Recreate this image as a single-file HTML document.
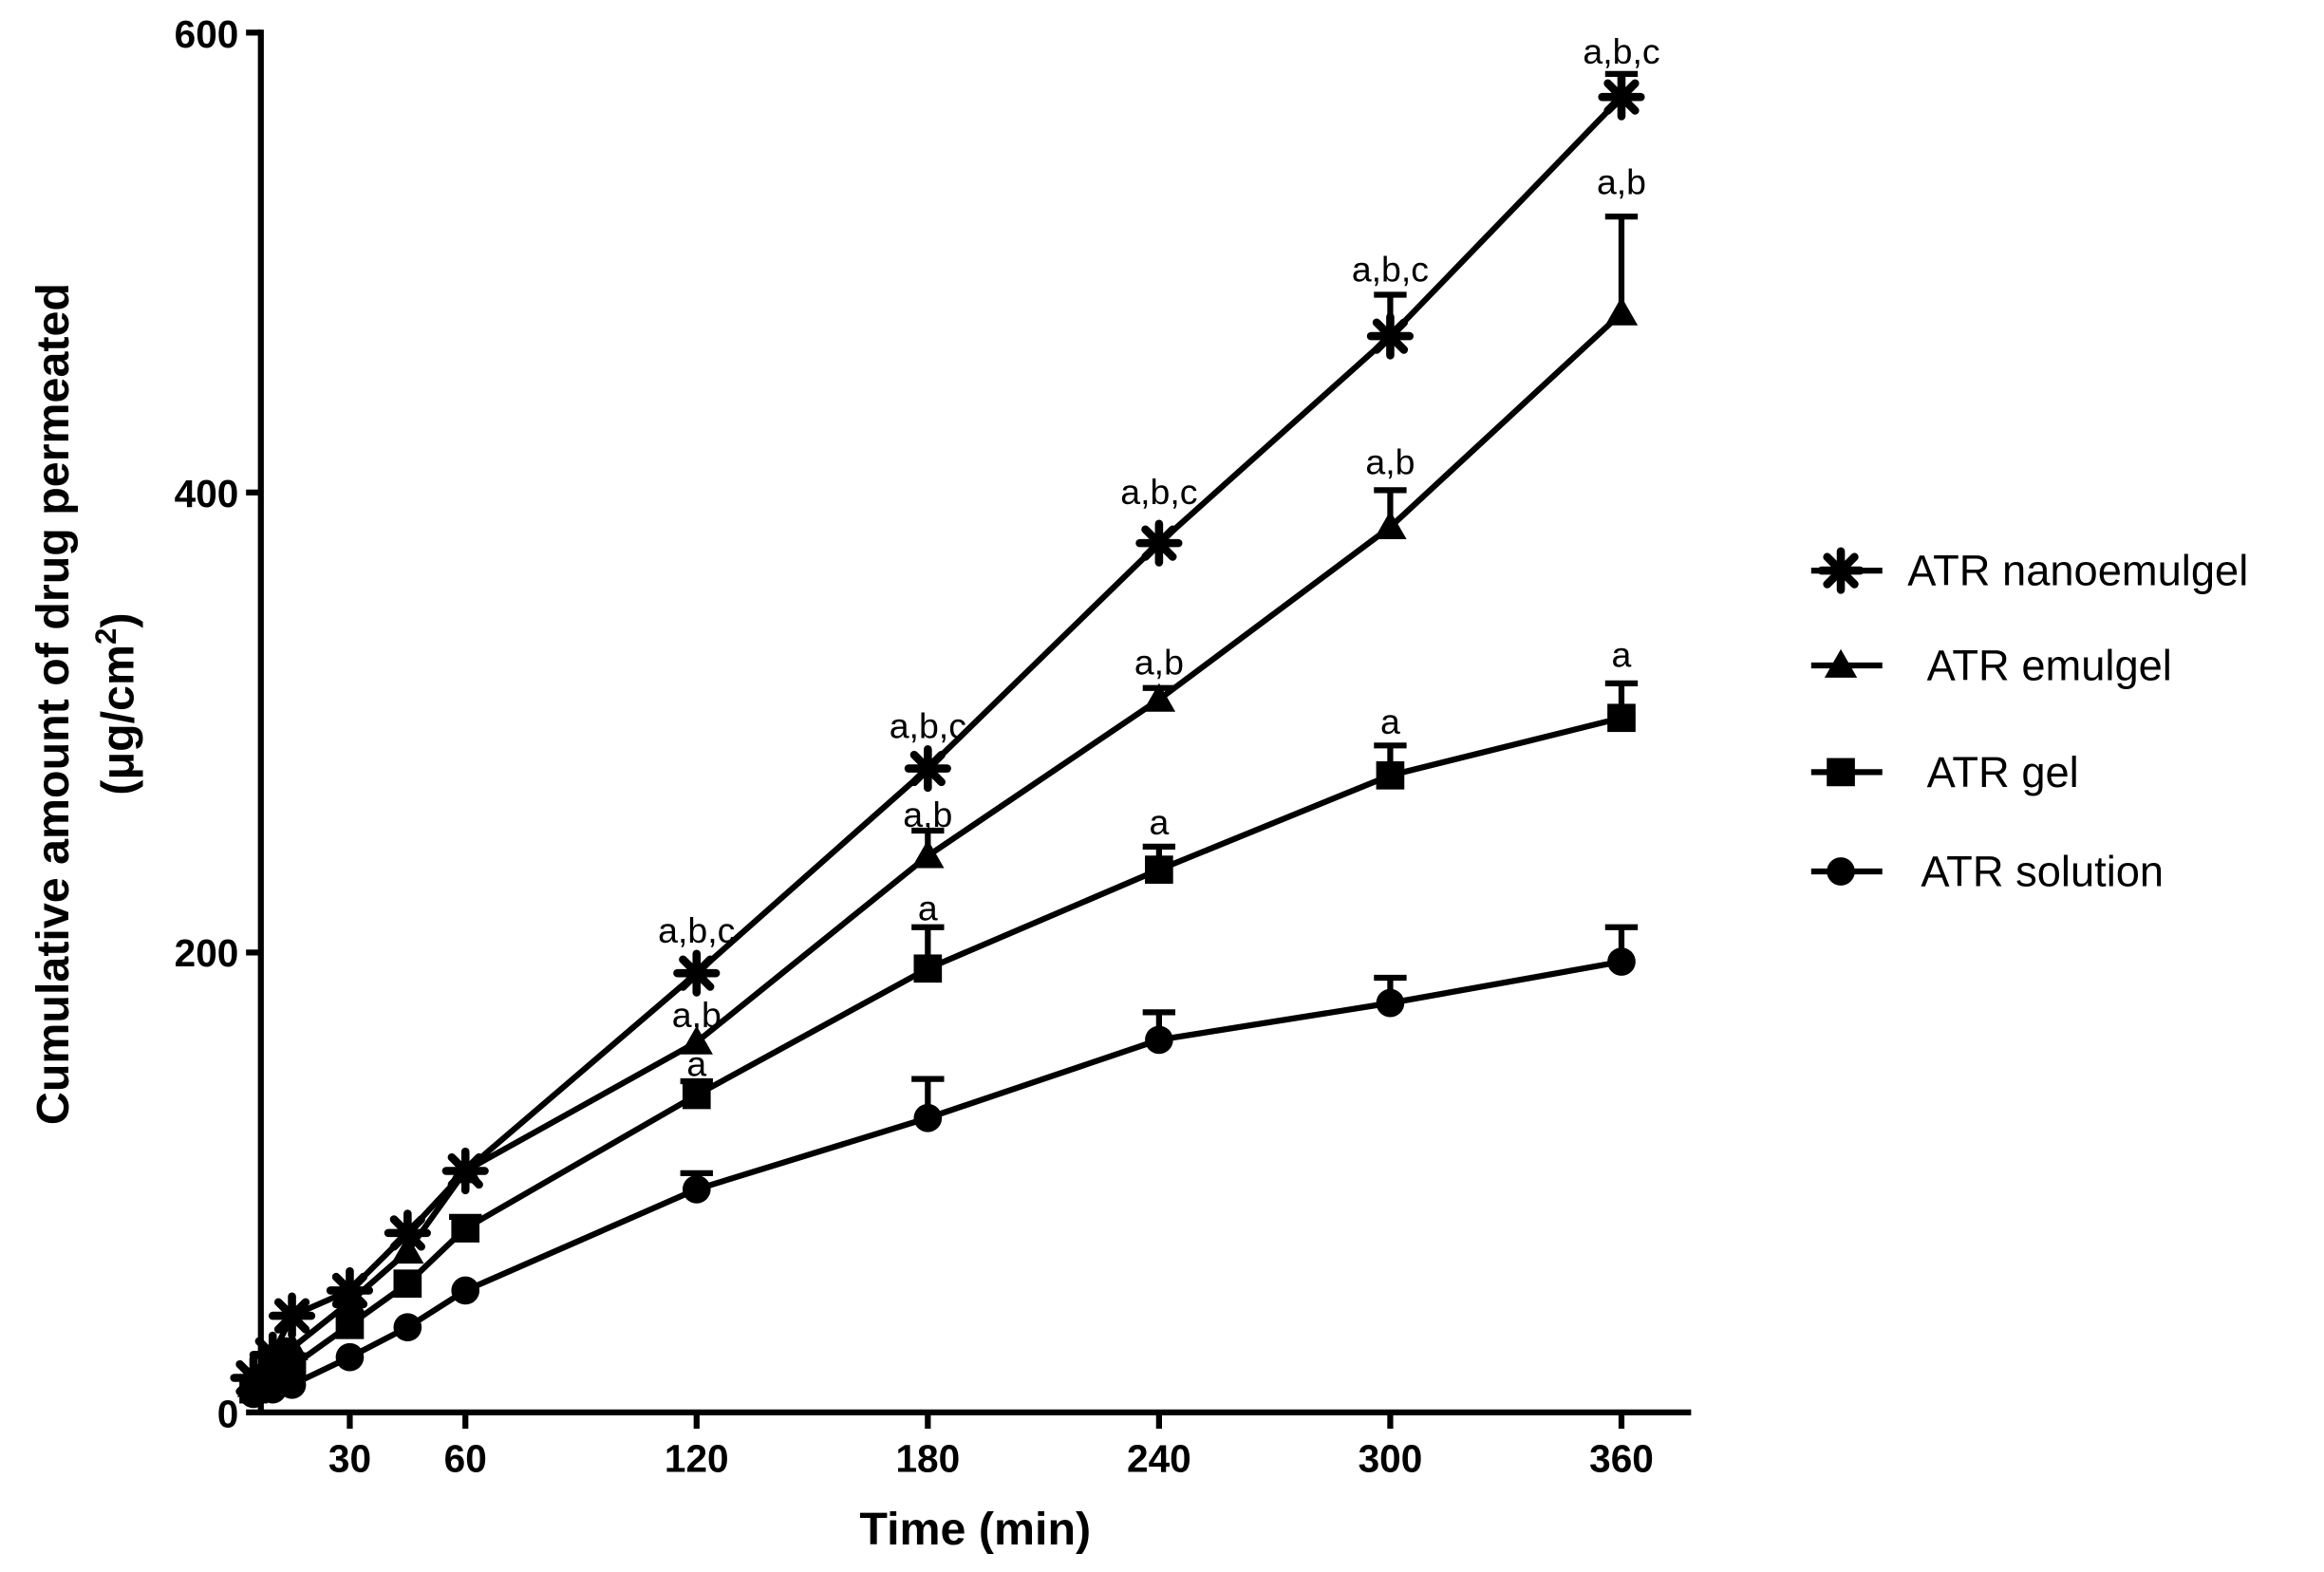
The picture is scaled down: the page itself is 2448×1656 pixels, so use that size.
<!DOCTYPE html>
<html><head><style>html,body{margin:0;padding:0;background:#fff}svg{display:block}</style></head>
<body>
<svg id="s" xmlns="http://www.w3.org/2000/svg" width="2448" height="1656" viewBox="0 0 1568 1060.7" font-family="Liberation Sans, sans-serif">
<rect width="1568" height="1061" fill="#fff"/>
<g stroke="#000" stroke-width="4" fill="none">
<line x1="176" y1="20" x2="176" y2="955"/>
<line x1="174" y1="953" x2="1141" y2="953"/>
<line x1="166" y1="22" x2="176" y2="22"/>
<line x1="166" y1="332.3" x2="176" y2="332.3"/>
<line x1="166" y1="642.7" x2="176" y2="642.7"/>
<line x1="166" y1="953" x2="176" y2="953"/>
</g>
<g font-size="26" font-weight="bold" text-anchor="end">
<text x="161" y="32">600</text><text x="161" y="342">400</text><text x="161" y="652">200</text><text x="161" y="963">0</text>
</g>
<g id="xt" font-size="26" font-weight="bold" text-anchor="middle"></g>
<text x="658" y="1042" font-size="31" font-weight="bold" text-anchor="middle">Time (min)</text>
<text transform="translate(46,475) rotate(-90)" font-size="31" font-weight="bold" text-anchor="middle">Cumulative amount of drug permeated</text>
<text transform="translate(90,475) rotate(-90)" font-size="31" font-weight="bold" text-anchor="middle">(μg/cm<tspan font-size="20" dy="-12">2</tspan><tspan dy="12">)</tspan></text>
<g id="plot"></g>
<g id="leg" font-size="29"></g>
</svg>
<script>
const NS="http://www.w3.org/2000/svg";
const X=t=>158+2.6*t, Y=v=>953-1.5517*v;
function el(p,tag,a,txt){const e=document.createElementNS(NS,tag);for(const k in a)e.setAttribute(k,a[k]);if(txt)e.textContent=txt;p.appendChild(e);return e;}
const xt=document.getElementById('xt');
const sv=document.querySelector('svg');
[30,60,120,180,240,300,360].forEach(t=>{el(sv,'line',{x1:X(t),x2:X(t),y1:953,y2:964,stroke:'#000','stroke-width':4});el(xt,'text',{x:X(t),y:993},t);});
const T=[5,10,15,30,45,60,120,180,240,300,360];
const S=[
 {m:'star',v:[15,25,42,53,78,105,191,280,378,468,572],e:{300:486,360:582}},
 {m:'tri',v:[12,20,28,48,70,105,161,242,310,385,478],e:{180:253,240:315,300:401,360:520}},
 {m:'sq',v:[10,15,20,38,56,80,138,193,236,277,302],e:{60:85,120:144,180:211,240:246,300:290,360:317}},
 {m:'circ',v:[8,10,12,24,37,53,97,128,162,178,196],e:{120:104,180:145,240:174,300:189,360:211}}
];
const P=document.getElementById('plot');
function mark(g,m,x,y,s){
 s=s||1;
 if(m==='star'){for(let i=0;i<4;i++){const a=i*Math.PI/4,r=13*s;el(g,'line',{x1:x-r*Math.cos(a),y1:y-r*Math.sin(a),x2:x+r*Math.cos(a),y2:y+r*Math.sin(a),stroke:'#000','stroke-width':5.5,'stroke-linecap':'round'});}}
 else if(m==='tri'){const r=11*s;el(g,'polygon',{points:`${x},${y-r} ${x-r},${y+r*0.75} ${x+r},${y+r*0.75}`,fill:'#000'});}
 else if(m==='sq'){const r=9.5*s;el(g,'rect',{x:x-r,y:y-r,width:2*r,height:2*r,fill:'#000'});}
 else el(g,'circle',{cx:x,cy:y,r:9.5*s,fill:'#000'});
}
S.forEach(s=>{
 el(P,'polyline',{points:T.map((t,i)=>X(t)+','+Y(s.v[i])).join(' '),fill:'none',stroke:'#000','stroke-width':4});
 for(const t in s.e){el(P,'line',{x1:X(t),x2:X(t),y1:Y(s.v[T.indexOf(+t)]),y2:Y(s.e[t]),stroke:'#000','stroke-width':4});el(P,'line',{x1:X(t)-11,x2:X(t)+11,y1:Y(s.e[t]),y2:Y(s.e[t]),stroke:'#000','stroke-width':4});}
 T.forEach((t,i)=>mark(P,s.m,X(t),Y(s.v[i])));
});
const lab=[['a,b,c',[[120,636],[180,498],[240,340],[300,190],[360,43]]],['a,b',[[120,693],[180,558],[240,455],[300,320],[360,131]]],['a',[[120,726],[180,621],[240,563],[300,495],[360,450]]]];
lab.forEach(([t,ps])=>ps.forEach(([x,y])=>el(P,'text',{x:X(x),y:y,'font-size':24,'text-anchor':'middle'},t)));
const L=document.getElementById('leg');
[['star','ATR nanoemulgel',385,1287],['tri','ATR emulgel',449,1300],['sq','ATR gel',521,1300],['circ','ATR solution',588,1296]].forEach(([m,t,y,tx])=>{
 el(L,'line',{x1:1222,x2:1270,y1:y,y2:y,stroke:'#000','stroke-width':4});mark(L,m,1242,y);el(L,'text',{x:tx,y:y+10},t);});
</script>
</body></html>
